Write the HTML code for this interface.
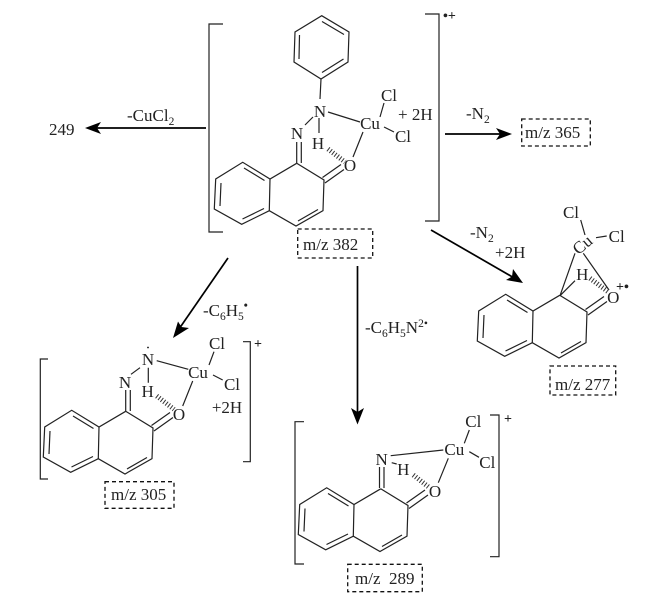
<!DOCTYPE html>
<html><head><meta charset="utf-8"><style>
html,body{margin:0;padding:0;background:#fff}
svg{display:block}
text{font-family:"Liberation Serif",serif;font-size:17px;fill:#222}
.m{text-anchor:middle}
.b{fill:none;stroke:#222;stroke-width:1.2}
.a{stroke:#000;stroke-width:1.7;fill:none}
.h{fill:#000;stroke:none}
.d{fill:none;stroke:#111;stroke-width:1.3;stroke-dasharray:4 3}
.w{stroke:#333;stroke-width:5;stroke-dasharray:1 2;fill:none}
.s{font-size:11.5px}
</style></head><body>
<svg width="672" height="608" viewBox="0 0 672 608" xmlns="http://www.w3.org/2000/svg">
<rect width="672" height="608" fill="#fff"/>
<defs>
<g id="naph" class="b">
<path d="M296.7 163.3L270 179L242.7 162.3L215.7 179L214.3 209L241.7 224.3L269.3 210.7L296 226L323 210.7L324 180L296.7 163.3"/>
<path d="M270 179L269.3 210.7M244 168L264.5 180.5M221 183L220 206M242.5 219L264 208.5M298 221L318 209.5M325 183L344 169.5M322.5 177.5L341 164.5"/>
</g>
</defs>

<!-- main -->
<path class="b" d="M223 24H209V232H223M425 14H439V221H425"/>
<text x="443" y="20" font-weight="bold" style="font-size:14px">•+</text>
<path class="b" d="M321.7 15.7L349 32L348 62L321 79L294 62L295 32Z M322 21.5L344 34.5M343.5 59L322 72.5M299.5 35L299 59M321 79L320 99"/>
<use href="#naph"/>
<path class="b" d="M296.7 163V142M301.3 163V142M305 125L313 117M319 118V133M328 112L360 122M384 103L380 117M384 127L394 132M363 132L353 157"/>
<path class="w" d="M328 149L345 162"/>
<text class="m" x="320" y="117">N</text>
<text class="m" x="297" y="139">N</text>
<text class="m" x="318" y="149">H</text>
<text class="m" x="370" y="129">Cu</text>
<text class="m" x="389" y="101">Cl</text>
<text class="m" x="403" y="142">Cl</text>
<text x="398" y="120">+ 2H</text>
<text class="m" x="350" y="171">O</text>
<rect class="d" x="297.7" y="229" width="75" height="29"/>
<text x="303" y="250">m/z 382</text>

<!-- 249 -->
<path class="a" d="M206 128H95"/><path class="h" d="M85 128L101 122L97 128L101 134Z"/>
<text x="49" y="135">249</text>
<text x="127" y="121">-CuCl<tspan class="s" dy="4">2</tspan></text>

<!-- 365 -->
<path class="a" d="M445 134H504"/><path class="h" d="M512 134L496 128L500 134L496 140Z"/>
<text x="466" y="119">-N<tspan class="s" dy="4">2</tspan></text>
<rect class="d" x="521.7" y="119" width="68.6" height="27"/>
<text x="525" y="138">m/z 365</text>

<!-- 277 arrow -->
<path class="a" d="M431 230L516 279"/><path class="h" d="M523 283L506 280L512 276.5L513 269Z"/>
<text x="470" y="238">-N<tspan class="s" dy="4">2</tspan></text>
<text x="495" y="258">+2H</text>

<!-- 277 -->
<use href="#naph" transform="translate(263 132)"/>
<path class="b" d="M580.7 220L585 235M596 237.7L606.7 236M575 253.3L560 295.7L575 280.7M583.3 253.3L609 290"/>
<path class="w" d="M590 278.3L608 291.7"/>
<text class="m" x="571" y="218">Cl</text>
<text class="m" transform="translate(586 249) rotate(-40)" x="0" y="0">Cu</text>
<text class="m" x="616.7" y="242">Cl</text>
<text class="m" x="582.3" y="280">H</text>
<text class="m" x="613.3" y="303">O</text>
<text x="616" y="291" font-weight="bold" style="font-size:14px">+•</text>
<rect class="d" x="550" y="366" width="65.7" height="29"/>
<text x="555" y="390">m/z 277</text>

<!-- 305 arrow -->
<path class="a" d="M228 258L179 329"/><path class="h" d="M173 338L178 321.5L181.5 327L189 328Z"/>
<text x="203" y="316">-C<tspan class="s" dy="4">6</tspan><tspan dy="-4">H</tspan><tspan class="s" dy="4">5</tspan><tspan class="s" dy="-11" font-weight="bold">•</tspan></text>

<!-- 305 -->
<path class="b" d="M48 359H40.3V479H48M243 341.7H250.3V461.7H243"/>
<text x="254" y="348" font-weight="bold" style="font-size:14px">+</text>
<use href="#naph" transform="translate(-171 248)"/>
<path class="b" d="M125.7 411V390M130.3 411V390M131 374.3L140 367.7M148.3 367.7V382.7M156.7 360.7L188.3 369.3M209 365L214 351.7M213 375L222.7 380M192.7 381L182.7 406"/>
<path class="w" d="M156.7 396L174 409.3"/>
<text class="m" x="148" y="365">N</text>
<circle cx="148" cy="347.5" r="0.9" fill="#111"/>
<text class="m" x="125" y="388">N</text>
<text class="m" x="147.7" y="397">H</text>
<text class="m" x="198" y="378">Cu</text>
<text class="m" x="217" y="349">Cl</text>
<text class="m" x="232" y="390">Cl</text>
<text class="m" x="227" y="413">+2H</text>
<text class="m" x="179" y="420">O</text>
<rect class="d" x="105" y="481.7" width="69" height="26.6"/>
<text x="111" y="500">m/z 305</text>

<!-- 289 arrow -->
<path class="a" d="M357.5 266V414"/><path class="h" d="M357.5 424.5L351 408L357.5 412L364 408Z"/>
<text x="365" y="333">-C<tspan class="s" dy="4">6</tspan><tspan dy="-4">H</tspan><tspan class="s" dy="4">5</tspan><tspan dy="-4">N</tspan><tspan class="s" dy="-6">2•</tspan></text>

<!-- 289 -->
<path class="b" d="M304 421.7H295V564H304M490 415H499V556.7H490"/>
<text x="504" y="423" font-weight="bold" style="font-size:14px">+</text>
<use href="#naph" transform="translate(84 325.5)"/>
<path class="b" d="M379.5 488V467M384 488V467M390.7 455.7L443.3 450M391.7 462.7L396.7 464M464.3 443.3L469.3 430M469.3 451.7L479 457.3M448.3 458.3L438.3 482.7"/>
<path class="w" d="M413.3 475L429 487.3"/>
<text class="m" x="381.7" y="465">N</text>
<text class="m" x="403.3" y="475">H</text>
<text class="m" x="454.3" y="455">Cu</text>
<text class="m" x="473.3" y="427">Cl</text>
<text class="m" x="487.3" y="468">Cl</text>
<text class="m" x="435" y="497">O</text>
<rect class="d" x="347.7" y="564.3" width="74.6" height="27.4"/>
<text x="355" y="584" xml:space="preserve">m/z  289</text>
</svg>
</body></html>
